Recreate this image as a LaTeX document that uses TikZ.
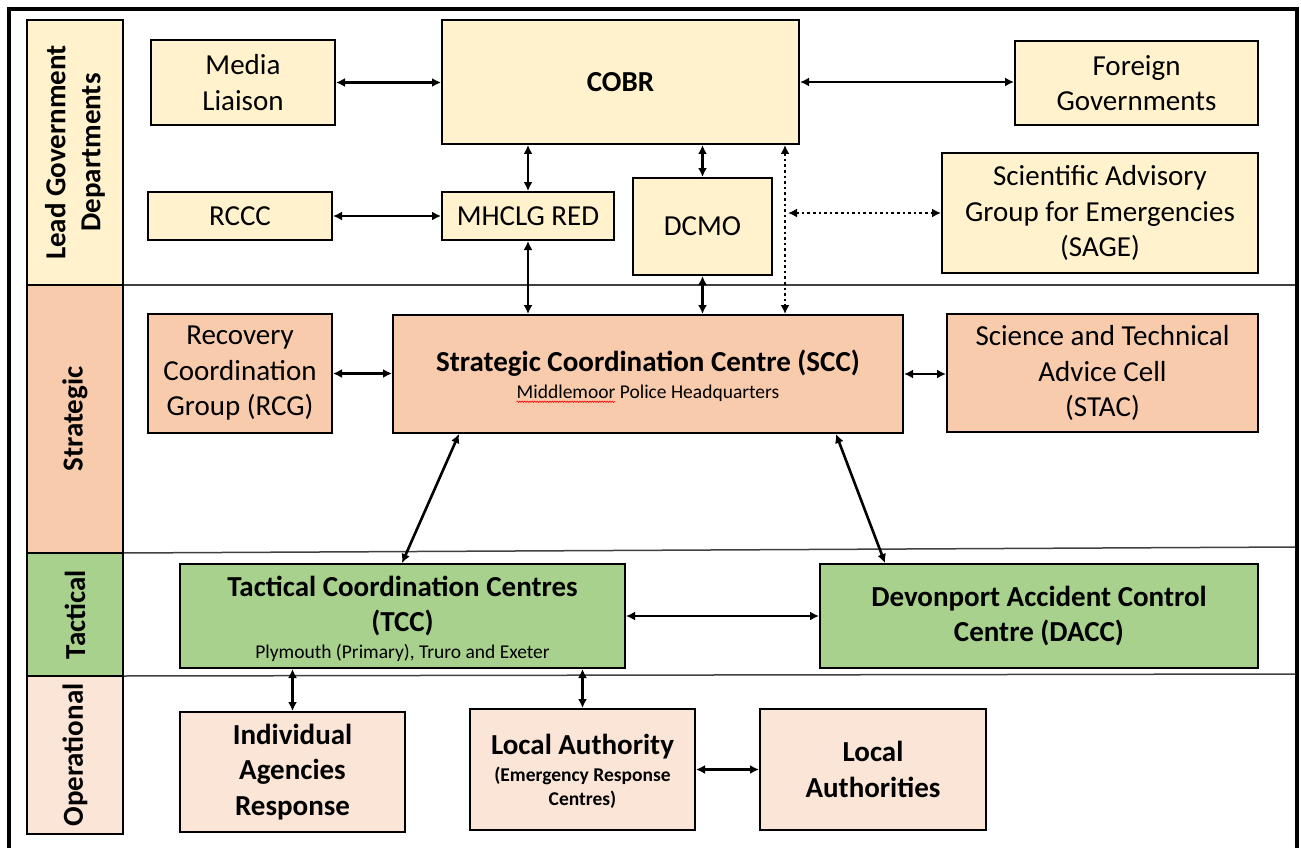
\documentclass[tikz,border=0pt]{standalone}
\usepackage{fontspec}
\setmainfont{Carlito}
\usetikzlibrary{arrows.meta,decorations.pathmorphing,calc}
\definecolor{ylw}{HTML}{FFF2CC}
\definecolor{pch}{HTML}{F8CBAD}
\definecolor{grn}{HTML}{A9D18E}
\definecolor{lpch}{HTML}{FBE5D6}
\begin{document}
\begin{tikzpicture}[x=1pt,y=-1pt,
  box/.style={draw=black,line width=2pt,inner sep=0pt,align=center,font=\fontsize{29}{35.5}\selectfont},
  bbox/.style={box,font=\fontsize{29}{35.5}\selectfont\bfseries},
  band/.style={draw=black,line width=2pt,inner sep=0pt,align=center,rotate=90,minimum height=96pt,font=\fontsize{29}{35}\selectfont\bfseries},
  txt/.style={inner sep=0pt,align=center,font=\fontsize{29}{35.5}\selectfont\bfseries},
  small/.style={inner sep=0pt,align=center,font=\fontsize{19.5}{23.5}\selectfont},
  conn/.style={line width=2.6pt,{Latex[length=9pt,width=9pt]}-{Latex[length=9pt,width=9pt]}},
  dots/.style={conn,dash pattern=on 2.6pt off 3pt},
  divider/.style={line width=1.5pt,draw=black!75}
]
\useasboundingbox (0,0) rectangle (1301,848);
\clip (0,0) rectangle (1301,848);
\fill[white] (0,0) rectangle (1301,848);

% dividers
\draw[divider] (123,285) -- (1297,285);
\draw[divider] (123,553) -- (1297,547);
\draw[divider] (123,676) -- (1297,674);

% outer frame
\draw[line width=4.5pt] (9,9) rectangle (1297,880);

% band labels
\node[band,fill=ylw,minimum width=265pt] (lgd) at (75,152.5) {Lead Government\\Departments};
\node[band,fill=pch,minimum width=268pt] (strat) at (75,419) {Strategic};
\node[band,fill=grn,minimum width=123pt] (tact) at (75,614.5) {Tactical};
\node[band,fill=lpch,minimum width=158pt] (oper) at (75,755) {Operational};

% lead government departments
\node[box,fill=ylw,minimum width=184pt,minimum height=85pt] (media) at (243,82.5) {Media\\Liaison};
\node[bbox,fill=ylw,minimum width=357pt,minimum height=124pt] (cobr) at (620.5,82) {COBR};
\node[box,fill=ylw,minimum width=243pt,minimum height=84pt] (foreign) at (1136.5,83) {Foreign\\Governments};
\node[box,fill=ylw,minimum width=184pt,minimum height=48pt] (rccc) at (240,216) {RCCC};
\node[box,fill=ylw,minimum width=172pt,minimum height=48pt] (mhclg) at (528,216) {MHCLG RED};
\node[box,fill=ylw,minimum width=139pt,minimum height=97pt] (dcmo) at (702.5,226.5) {DCMO};
\node[box,fill=ylw,minimum width=316pt,minimum height=120pt] (sage) at (1100,213) {Scientific Advisory\\Group for Emergencies\\(SAGE)};

% strategic
\node[box,fill=pch,minimum width=184pt,minimum height=119pt] (rcg) at (240,373.5) {Recovery\\Coordination\\Group (RCG)};
\node[box,fill=pch,minimum width=510pt,minimum height=118pt] (scc) at (648,374) {};
\node[txt] (scct) at (648,363) {Strategic Coordination Centre (SCC)};
\node[small] (sccs) at (648,393) {Middlemoor Police Headquarters};
\node[box,fill=pch,minimum width=311pt,minimum height=118pt] (stac) at (1102.5,373) {Science and Technical\\Advice Cell\\(STAC)};

% tactical
\node[box,fill=grn,minimum width=445pt,minimum height=104pt] (tcc) at (402.5,616) {};
\node[txt] (tcct) at (402.5,606) {Tactical Coordination Centres\\(TCC)};
\node[small] (tccs) at (402.5,653) {Plymouth (Primary), Truro and Exeter};
\node[bbox,fill=grn,minimum width=438pt,minimum height=104pt] (dacc) at (1039,616) {Devonport Accident Control\\Centre (DACC)};

% operational
\node[bbox,fill=lpch,minimum width=225pt,minimum height=120pt] (iar) at (292.5,772) {Individual\\Agencies\\Response};
\node[box,fill=lpch,minimum width=225pt,minimum height=121pt] (la) at (582.5,769.5) {};
\node[txt] (lat) at (582.5,747) {Local Authority};
\node[small,font=\fontsize{19.5}{23.5}\selectfont\bfseries] (las2) at (582.5,787.5) {(Emergency Response\\Centres)};
\node[bbox,fill=lpch,minimum width=226pt,minimum height=121pt] (las) at (873,769.5) {Local\\Authorities};

% spell-check underline
\draw[red,line width=0.6pt,decorate,decoration={snake,amplitude=0.7pt,segment length=2.5pt}]
  ($(sccs.base west)+(0,3.5)$) -- ($(sccs.base west)+(99,3.5)$);

% connectors
\draw[conn] (media.east) -- (cobr.west |- media.east);
\draw[conn] (cobr.east) -- (foreign.west |- cobr.east);
\draw[conn] (rccc.east) -- (mhclg.west);
\draw[conn] (mhclg.north) -- (mhclg.north |- cobr.south);
\draw[conn] (dcmo.north) -- (dcmo.north |- cobr.south);
\draw[conn] (mhclg.south) -- (mhclg.south |- scc.north);
\draw[conn] (dcmo.south) -- (dcmo.south |- scc.north);
\coordinate (dtop) at ([xshift=-15pt]cobr.south east);
\draw[dots] (dtop) -- (dtop |- scc.north);
\coordinate (dj) at ([xshift=3pt]dtop |- sage.west);
\draw[dots] (dj) -- (sage.west);
\draw[conn] (rcg.east) -- (scc.west |- rcg.east);
\draw[conn] (scc.east) -- (stac.west |- scc.east);
\draw[conn] ([xshift=67pt]scc.south west) -- ([xshift=223pt]tcc.north west);
\draw[conn] ([xshift=-68pt]scc.south east) -- ([xshift=66pt]dacc.north west);
\draw[conn] (tcc.east) -- (dacc.west);
\draw[conn] (tcc.south -| iar.north) -- (iar.north);
\draw[conn] (tcc.south -| la.north) -- (la.north);
\draw[conn] (la.east) -- (las.west);
\end{tikzpicture}
\end{document}
